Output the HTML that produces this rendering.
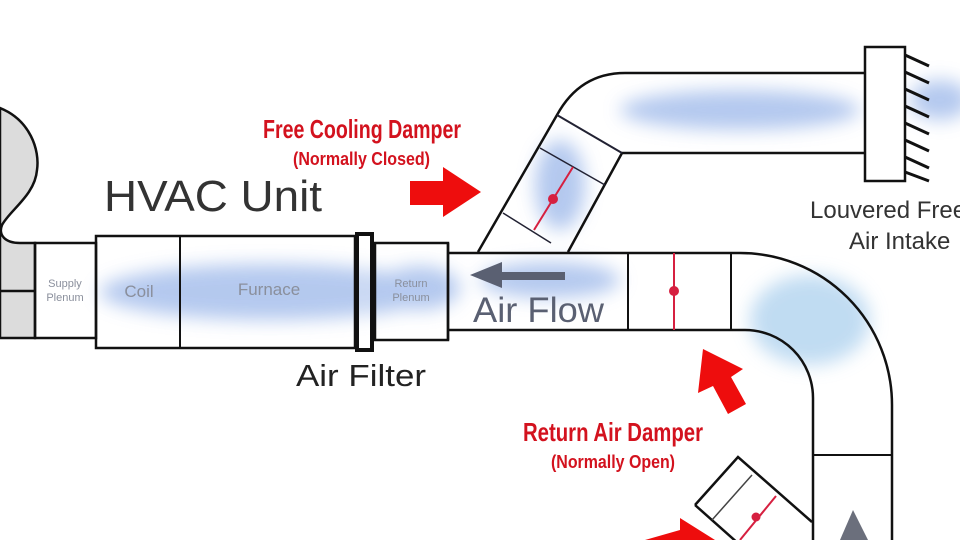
<!DOCTYPE html>
<html><head><meta charset="utf-8"><style>
html,body{margin:0;padding:0;background:#fff;}
svg{display:block}
.r{font-family:"Liberation Sans",sans-serif;font-weight:bold;fill:#d3121e}
.g{font-family:"Liberation Sans",sans-serif}
</style></head><body>
<svg width="960" height="540" viewBox="0 0 960 540" xmlns="http://www.w3.org/2000/svg">
<defs><filter id="b" x="-30%" y="-60%" width="160%" height="220%"><feGaussianBlur stdDeviation="9"/></filter></defs>
<rect width="960" height="540" fill="#fff"/>
<path d="M0,108 C30,120 40,150 37,170 C35,195 10,210 2,225 C-2,235 5,243 20,243 L35,243 L35,338 L0,338 Z" fill="#dcdcdc" stroke="#111" stroke-width="2.5"/>
<line x1="0" y1="291" x2="35" y2="291" stroke="#111" stroke-width="2.5"/>
<g filter="url(#b)" fill="#a7c0ec" opacity="0.85">
<ellipse cx="270" cy="292" rx="170" ry="28"/>
<ellipse cx="420" cy="288" rx="40" ry="22"/>
<ellipse cx="550" cy="280" rx="70" ry="18"/>
<ellipse cx="740" cy="110" rx="120" ry="20"/>
<ellipse cx="560" cy="185" rx="25" ry="45"/>
<ellipse cx="940" cy="100" rx="30" ry="20"/>
<ellipse cx="810" cy="320" rx="60" ry="45" fill="#b6d6f0"/>
</g>
<path d="M478,252 L557,115 Q580,73 625,73 L865,73" fill="none" stroke="#111" stroke-width="2.5"/>
<path d="M568,252 L622,153 L865,153" fill="none" stroke="#111" stroke-width="2.5"/>
<line x1="557" y1="115" x2="622" y2="153" stroke="#223" stroke-width="2"/>
<line x1="540" y1="148" x2="605" y2="185" stroke="#223" stroke-width="1.5"/>
<line x1="503" y1="213" x2="551" y2="243" stroke="#223" stroke-width="1.5"/>
<line x1="573" y1="167" x2="534" y2="230" stroke="#d62040" stroke-width="2"/>
<circle cx="553" cy="199" r="5" fill="#d62040"/>
<rect x="865" y="47" width="40" height="134" fill="#fff" stroke="#111" stroke-width="2.5"/>
<g stroke="#111" stroke-width="3">
<line x1="905" y1="55" x2="929" y2="66"/><line x1="905" y1="72" x2="929" y2="83"/><line x1="905" y1="89" x2="929" y2="100"/><line x1="905" y1="106" x2="929" y2="117"/><line x1="905" y1="123" x2="929" y2="134"/><line x1="905" y1="140" x2="929" y2="151"/><line x1="905" y1="157" x2="929" y2="168"/><line x1="905" y1="172" x2="929" y2="181"/>
</g>
<path d="M448,253 L740,253 A152,152 0 0 1 892,405 L892,540" fill="none" stroke="#111" stroke-width="2.5"/>
<path d="M448,330 L745,330 A68,68 0 0 1 813,398 L813,540" fill="none" stroke="#111" stroke-width="2.5"/>
<line x1="628" y1="253" x2="628" y2="330" stroke="#111" stroke-width="2"/>
<line x1="731" y1="253" x2="731" y2="330" stroke="#111" stroke-width="2"/>
<line x1="813" y1="455" x2="892" y2="455" stroke="#111" stroke-width="2"/>
<line x1="674" y1="253" x2="674" y2="330" stroke="#d62040" stroke-width="2"/>
<circle cx="674" cy="291" r="5" fill="#d62040"/>
<path d="M695,505 L738,457 L812,522" fill="none" stroke="#111" stroke-width="2.5"/>
<line x1="695" y1="505" x2="740" y2="545" stroke="#111" stroke-width="2.5"/>
<line x1="752" y1="475" x2="712" y2="520" stroke="#444" stroke-width="1.5"/>
<line x1="776" y1="496" x2="740" y2="540" stroke="#d62040" stroke-width="2"/>
<circle cx="756" cy="517" r="4.5" fill="#d62040"/>
<polygon points="853,510 840,540 868,540" fill="#6b6f7c"/>
<rect x="35" y="243" width="61" height="95" fill="none" stroke="#111" stroke-width="2.5"/>
<rect x="96" y="236" width="259" height="112" fill="none" stroke="#111" stroke-width="2.5"/>
<line x1="180" y1="236" x2="180" y2="348" stroke="#111" stroke-width="2"/>
<rect x="375" y="243" width="73" height="97" fill="none" stroke="#111" stroke-width="2.5"/>
<rect x="357" y="234" width="15" height="116" fill="#fff" fill-opacity="0.3" stroke="#111" stroke-width="4"/>
<line x1="448" y1="243" x2="448" y2="340" stroke="#111" stroke-width="2.5"/>
<g class="g" fill="#8a8f9c" text-anchor="middle">
<text x="65" y="287" font-size="11">Supply</text><text x="65" y="301" font-size="11">Plenum</text>
<text x="139" y="297" font-size="17">Coil</text>
<text x="269" y="295" font-size="17">Furnace</text>
<text x="411" y="287" font-size="11">Return</text><text x="411" y="301" font-size="11">Plenum</text>
</g>
<text class="g" x="104" y="211" font-size="44" fill="#333" textLength="218" lengthAdjust="spacingAndGlyphs">HVAC Unit</text>
<text class="g" x="296" y="386" font-size="31" fill="#222" textLength="130" lengthAdjust="spacingAndGlyphs">Air Filter</text>
<text class="g" x="810" y="218" font-size="24" fill="#333">Louvered Free</text>
<text class="g" x="849" y="249" font-size="24" fill="#333">Air Intake</text>
<text class="g" x="473" y="322" font-size="35" fill="#5a6072" textLength="131" lengthAdjust="spacingAndGlyphs">Air Flow</text>
<polygon points="470,275 502,262 502,272 565,272 565,280 502,280 502,288" fill="#5a6072"/>
<text class="r" x="263" y="138" font-size="26" textLength="198" lengthAdjust="spacingAndGlyphs">Free Cooling Damper</text>
<text class="r" x="293" y="165" font-size="18" textLength="137" lengthAdjust="spacingAndGlyphs">(Normally Closed)</text>
<text class="r" x="523" y="441" font-size="26" textLength="180" lengthAdjust="spacingAndGlyphs">Return Air Damper</text>
<text class="r" x="551" y="468" font-size="18" textLength="124" lengthAdjust="spacingAndGlyphs">(Normally Open)</text>
<polygon points="410,181 443,181 443,167 481,192 443,217 443,205 410,205" fill="#ee0d0d"/>
<polygon points="703,349 743,369 731,377 746,404 728,414 713,386 698,393" fill="#ee0d0d"/>
<polygon points="645,540 680,530 680,518 715,540" fill="#ee0d0d"/>
</svg>
</body></html>
